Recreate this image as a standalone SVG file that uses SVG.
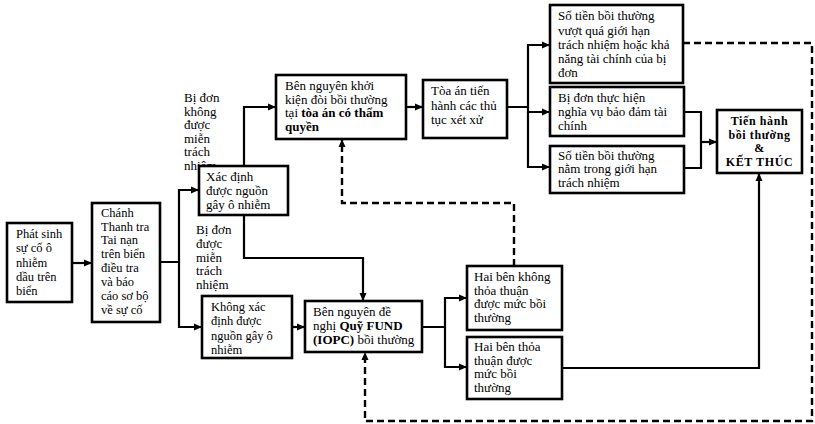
<svg xmlns="http://www.w3.org/2000/svg" width="815" height="424" viewBox="0 0 815 424">
<defs>
<marker id="ah" viewBox="0 0 8 8" refX="8" refY="4" markerWidth="8" markerHeight="8" markerUnits="userSpaceOnUse" orient="auto">
<path d="M0,0.5 L8,4 L0,7.5 z" fill="#000"/>
</marker>
</defs>
<style>
.box{fill:#fff;stroke:#000;stroke-width:2.6}
.t{font-family:"Liberation Serif","Times New Roman",serif;font-size:13px;fill:#000}
.s{font-size:12.5px}
.b{font-weight:bold}
.c{fill:none;stroke:#000;stroke-width:2.2}
.d{fill:none;stroke:#000;stroke-width:2.4;stroke-dasharray:7,4}
.end{font-family:"Liberation Serif","Times New Roman",serif;font-size:12px;font-weight:bold;fill:#000;text-anchor:middle;letter-spacing:0.6px}
</style>
<rect width="815" height="424" fill="#fff"/>

<g id="connectors">
<path class="c" d="M72,263 H92" marker-end="url(#ah)"/>
<path class="c" d="M160,262 H179 V190 H199" marker-end="url(#ah)"/>
<path class="c" d="M179,262 V327 H202" marker-end="url(#ah)"/>
<path class="c" d="M244,166 V107 H276" marker-end="url(#ah)"/>
<path class="c" d="M244,215 V258 H363 V301" marker-end="url(#ah)"/>
<path class="c" d="M292,327 H305" marker-end="url(#ah)"/>
<path class="c" d="M406,107 H423" marker-end="url(#ah)"/>
<path class="c" d="M507,107 H528 V45 H550" marker-end="url(#ah)"/>
<path class="c" d="M528,107 V112 H550" marker-end="url(#ah)"/>
<path class="c" d="M528,112 V167 H550" marker-end="url(#ah)"/>
<path class="c" d="M422,327 H445 V298 H467" marker-end="url(#ah)"/>
<path class="c" d="M445,327 V367 H467" marker-end="url(#ah)"/>
<path class="c" d="M562,368 H759 V173" marker-end="url(#ah)"/>
<path class="c" d="M684,112 H701 V168 H684"/>
<path class="c" d="M701,142 H717" marker-end="url(#ah)"/>
<path class="d" d="M514,266 V203 H342 V139" marker-end="url(#ah)"/>
<path class="d" d="M683,43 H812 V421 H365 V352" marker-end="url(#ah)"/>
</g>

<g id="label-khong-mien">
<text class="t"><tspan x="184" y="102">Bị đơn</tspan><tspan x="184" y="115.5">không</tspan><tspan x="184" y="129">được</tspan><tspan x="184" y="142.5">miễn</tspan><tspan x="184" y="156">trách</tspan><tspan x="184" y="169.5">nhiệm</tspan></text>
</g>
<g id="label-mien">
<text class="t"><tspan x="196" y="234">Bị đơn</tspan><tspan x="196" y="248">được</tspan><tspan x="196" y="261.5">miễn</tspan><tspan x="196" y="275">trách</tspan><tspan x="196" y="288.5">nhiệm</tspan></text>
</g>

<g id="phat-sinh">
<rect class="box" x="7" y="223" width="65" height="79"/>
<text class="t s"><tspan x="16" y="238">Phát sinh</tspan><tspan x="16" y="252">sự cố ô</tspan><tspan x="16" y="266.5">nhiễm</tspan><tspan x="16" y="280.5">dầu trên</tspan><tspan x="16" y="294.5">biển</tspan></text>
</g>

<g id="chanh-thanh-tra">
<rect class="box" x="92" y="203" width="68" height="119"/>
<text class="t s"><tspan x="101" y="217">Chánh</tspan><tspan x="101" y="230.7">Thanh tra</tspan><tspan x="101" y="244.4">Tai nạn</tspan><tspan x="101" y="258.1">trên biển</tspan><tspan x="101" y="272.3">điều tra</tspan><tspan x="101" y="286">và báo</tspan><tspan x="101" y="299.7">cáo sơ bộ</tspan><tspan x="101" y="313.5">về sự cố</tspan></text>
</g>

<g id="xac-dinh">
<rect class="box" x="199" y="166" width="89" height="49"/>
<text class="t"><tspan x="206" y="181">Xác định</tspan><tspan x="206" y="195">được nguồn</tspan><tspan x="206" y="208.5">gây ô nhiễm</tspan></text>
</g>

<g id="khong-xac-dinh">
<rect class="box" x="202" y="296" width="90" height="62"/>
<text class="t s"><tspan x="211" y="311">Không xác</tspan><tspan x="211" y="325">định được</tspan><tspan x="211" y="339.5">nguồn gây ô</tspan><tspan x="211" y="353.5">nhiễm</tspan></text>
</g>

<g id="khoi-kien">
<rect class="box" x="276" y="75" width="130" height="64"/>
<text class="t"><tspan x="285" y="90">Bên nguyên khởi</tspan><tspan x="285" y="103.5">kiện đòi bồi thường</tspan><tspan x="285" y="117">tại <tspan class="b">tòa án có thẩm</tspan></tspan><tspan x="285" y="130.5" class="b">quyền</tspan></text>
</g>

<g id="quy-fund">
<rect class="box" x="305" y="301" width="117" height="51"/>
<text class="t"><tspan x="313" y="316">Bên nguyên đề</tspan><tspan x="313" y="330">nghị <tspan class="b">Quỹ FUND</tspan></tspan><tspan x="313" y="344"><tspan class="b">(IOPC)</tspan> bồi thường</tspan></text>
</g>

<g id="toa-an">
<rect class="box" x="423" y="80" width="84" height="58"/>
<text class="t"><tspan x="431" y="95">Tòa án tiến</tspan><tspan x="431" y="110">hành các thủ</tspan><tspan x="431" y="124">tục xét xử</tspan></text>
</g>

<g id="vuot-qua">
<rect class="box" x="550" y="5" width="133" height="78"/>
<text class="t"><tspan x="558" y="20">Số tiền bồi thường</tspan><tspan x="558" y="35">vượt quá giới hạn</tspan><tspan x="558" y="49">trách nhiệm hoặc khả</tspan><tspan x="558" y="63">năng tài chính  của bị</tspan><tspan x="558" y="76.5">đơn</tspan></text>
</g>

<g id="bao-dam">
<rect class="box" x="550" y="87" width="134" height="49"/>
<text class="t"><tspan x="558" y="102">Bị đơn thực hiện</tspan><tspan x="558" y="116">nghĩa vụ bảo đảm tài</tspan><tspan x="558" y="130">chính</tspan></text>
</g>

<g id="trong-gioi-han">
<rect class="box" x="550" y="146" width="134" height="47"/>
<text class="t"><tspan x="558" y="159.5">Số tiền bồi thường</tspan><tspan x="558" y="173">nằm trong giới hạn</tspan><tspan x="558" y="186.5">trách nhiệm</tspan></text>
</g>

<g id="khong-thoa-thuan">
<rect class="box" x="467" y="266" width="95" height="64"/>
<text class="t"><tspan x="474" y="281">Hai bên không</tspan><tspan x="474" y="294.5">thỏa thuận</tspan><tspan x="474" y="308">được mức bồi</tspan><tspan x="474" y="321.5">thường</tspan></text>
</g>

<g id="thoa-thuan">
<rect class="box" x="467" y="337" width="95" height="62"/>
<text class="t"><tspan x="474" y="351">Hai bên thỏa</tspan><tspan x="474" y="364.5">thuận được</tspan><tspan x="474" y="378">mức bồi</tspan><tspan x="474" y="391.5">thường</tspan></text>
</g>

<g id="ket-thuc">
<rect class="box" x="717" y="110" width="85" height="63"/>
<text class="end"><tspan x="759.5" y="125">Tiến hành</tspan><tspan x="759.5" y="139">bồi thường</tspan><tspan x="759.5" y="152">&amp;</tspan><tspan x="759.5" y="165.5">KẾT THÚC</tspan></text>
</g>
</svg>
